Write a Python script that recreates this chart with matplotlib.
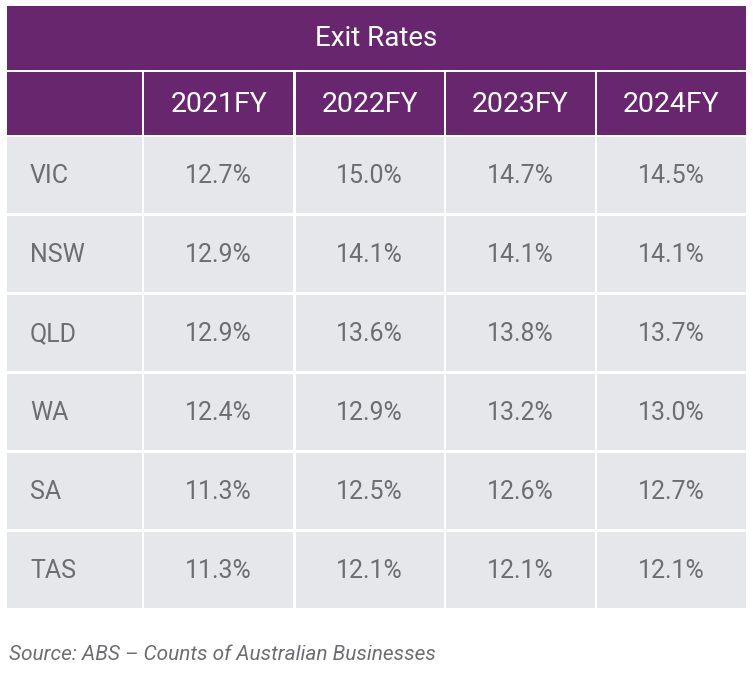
import matplotlib
matplotlib.use("Agg")
import matplotlib.pyplot as plt
from matplotlib.patches import Rectangle

title = "Exit Rates"
years = ["2021FY", "2022FY", "2023FY", "2024FY"]
states = ["VIC", "NSW", "QLD", "WA", "SA", "TAS"]
vals_2021 = [12.7, 12.9, 12.9, 12.4, 11.3, 11.3]
vals_2022 = [15.0, 14.1, 13.6, 12.9, 12.5, 12.1]
vals_2023 = [14.7, 14.1, 13.8, 13.2, 12.6, 12.1]
vals_2024 = [14.5, 14.1, 13.7, 13.0, 12.7, 12.1]
source = "Source: ABS \u2013 Counts of Australian Businesses"

purple = "#68266f"
cell_grey = "#e6e7ea"
text_grey = "#6d6e71"

plt.rcParams["font.family"] = ["Roboto", "DejaVu Sans"]

fig = plt.figure(figsize=(7.53, 6.75), dpi=100)
ax = fig.add_axes([0, 0, 1, 1])
ax.set_xlim(0, 753)
ax.set_ylim(675, 0)
ax.axis("off")

# layout in pixels
left, right = 7, 746
gap = 2.5
col_edges = [7, 143, 294.5, 445, 596, 746]
title_top, title_bot = 6, 69.5
head_top, head_bot = 71.5, 135
row_top = 137
row_h = 79

ax.add_patch(Rectangle((left, title_top), right - left, title_bot - title_top, color=purple, lw=0))
ax.text((left + right) / 2, (title_top + title_bot) / 2 + 1, title, color="white",
        fontsize=20, ha="center", va="center")

for c in range(5):
    x0 = col_edges[c] + (gap / 2 if c > 0 else 0)
    x1 = col_edges[c + 1] - (gap / 2 if c < 4 else 0)
    ax.add_patch(Rectangle((x0, head_top), x1 - x0, head_bot - head_top, color=purple, lw=0))
    if c > 0:
        ax.text((x0 + x1) / 2, (head_top + head_bot) / 2 + 1, years[c - 1], color="white",
                fontsize=20.5, ha="center", va="center")

cols = [vals_2021, vals_2022, vals_2023, vals_2024]
for r, st in enumerate(states):
    y0 = row_top + r * row_h
    y1 = y0 + row_h - 3
    yc = (y0 + y1) / 2 + 1
    for c in range(5):
        x0 = col_edges[c] + (gap / 2 if c > 0 else 0)
        x1 = col_edges[c + 1] - (gap / 2 if c < 4 else 0)
        ax.add_patch(Rectangle((x0, y0), x1 - x0, y1 - y0, color=cell_grey, lw=0))
        if c == 0:
            ax.text(30, yc, st, color=text_grey, fontsize=18, ha="left", va="center")
        else:
            ax.text((x0 + x1) / 2, yc, f"{cols[c - 1][r]:.1f}%", color=text_grey,
                    fontsize=18, ha="center", va="center")

ax.text(9, 654, source, color=text_grey, fontsize=15, ha="left", va="center",
        style="italic")

fig.savefig("out.png", dpi=100)
